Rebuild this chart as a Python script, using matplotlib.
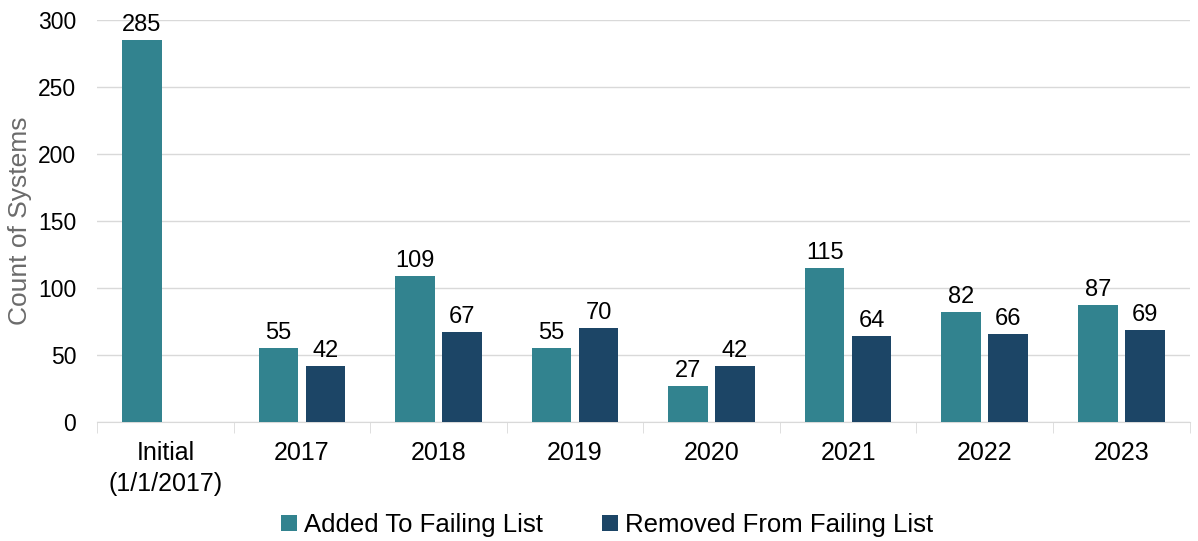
import matplotlib.pyplot as plt
import numpy as np

plt.rcParams['font.family'] = ['Liberation Sans', 'DejaVu Sans']

categories = ['Initial\n(1/1/2017)', '2017', '2018', '2019', '2020', '2021', '2022', '2023']
added = [285, 55, 109, 55, 27, 115, 82, 87]
removed = [None, 42, 67, 70, 42, 64, 66, 69]

teal = '#32838f'
navy = '#1c4566'

fig = plt.figure(figsize=(11.98, 5.41), dpi=100)
ax = fig.add_axes([0.081, 0.22, 0.912, 0.743])

x = np.arange(len(categories))
w = 0.29
off = 0.172

for i in x:
    ax.bar(i - off, added[i], w, color=teal, zorder=3,
           label='Added To Failing List' if i == 0 else None)
    ax.text(i - off, added[i] + 3, str(added[i]), ha='center', va='bottom', fontsize=17)
    if removed[i] is not None:
        ax.bar(i + off, removed[i], w, color=navy, zorder=3,
               label='Removed From Failing List' if i == 1 else None)
        ax.text(i + off, removed[i] + 3, str(removed[i]), ha='center', va='bottom', fontsize=17)

ax.set_xlim(-0.5, len(categories) - 0.5)
ax.set_ylim(0, 300)
ax.set_yticks(range(0, 301, 50))
ax.yaxis.grid(True, color='#d9d9d9', linewidth=1, zorder=0)
ax.set_axisbelow(True)

ax.set_xticks(x)
ax.set_xticklabels(categories, fontsize=18, linespacing=1.35)
ax.set_xticks(np.arange(-0.5, len(categories), 1), minor=True)
ax.tick_params(axis='x', which='major', length=0, pad=14)
ax.tick_params(axis='x', which='minor', length=8, color='#d9d9d9')
ax.tick_params(axis='y', length=0, labelsize=16.5, pad=15)

for s in ['top', 'right', 'left']:
    ax.spines[s].set_visible(False)
ax.spines['bottom'].set_color('#d9d9d9')

ax.set_ylabel('Count of Systems', fontsize=19, color='#6b6b6b', labelpad=4)

fig.legend(loc='lower center', bbox_to_anchor=(0.507, -0.035), ncol=2, frameon=False,
           fontsize=18.5, handlelength=0.6, handleheight=0.6, handletextpad=0.3,
           columnspacing=2.3)

fig.savefig('out.png', dpi=100)
